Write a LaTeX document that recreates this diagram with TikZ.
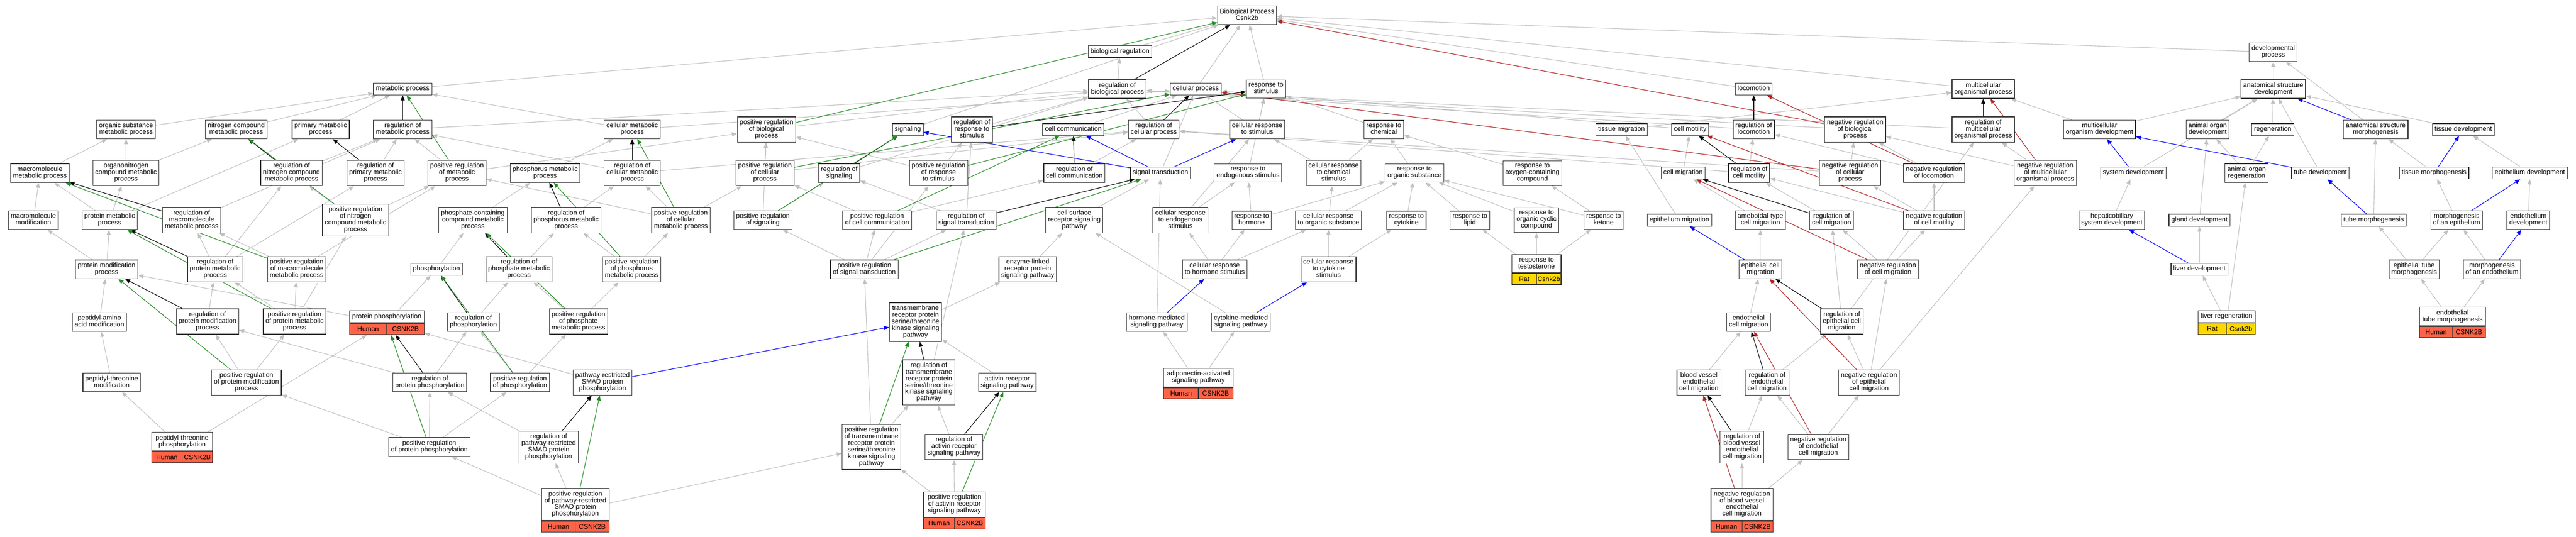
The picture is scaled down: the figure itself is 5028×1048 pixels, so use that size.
\documentclass[tikz,border=0pt]{standalone}
\usepackage{fontspec}
\setmainfont{Liberation Sans}
\usetikzlibrary{arrows.meta}
\usetikzlibrary{fit}
\pgfdeclarelayer{background}
\pgfsetlayers{background,main}
\definecolor{isagray}{HTML}{C0C0C0}
\definecolor{posgreen}{HTML}{228B22}
\definecolor{negred}{HTML}{B22222}
\definecolor{partblue}{HTML}{0000FF}
\definecolor{human}{HTML}{FF6347}
\definecolor{rat}{HTML}{FFD700}
\newcommand{\geneterm}[8]{%
  \node[termbox, anchor=north, minimum width=#4pt] (#1_t) at (#2,#3) {#5};
  \node[tagbox, fill=#8, minimum width=#4pt/2, anchor=north west] (#1_s) at (#1_t.south west) {#6};
  \node[tagbox, fill=#8, minimum width=#4pt/2, anchor=north east] (#1_g) at (#1_t.south east) {#7};
  \node[fit=(#1_t)(#1_s)(#1_g), inner sep=0pt] (#1) {};}

\begin{document}
\begin{tikzpicture}[x=1pt, y=-1pt,
  termbox/.style={draw=black!80, line width=1.2pt, fill=white, align=center, inner xsep=4.5pt, inner ysep=5pt, font=\fontsize{13}{13}\selectfont, execute at begin node=\strut, execute at end node=\strut},
  tagbox/.style={draw=black!80, line width=1.2pt, minimum height=22pt, inner sep=0pt, font=\fontsize{13}{13}\selectfont},
  isa/.style={draw=isagray, line width=1.1pt, -{Triangle[length=10pt,width=8pt]}},
  regl/.style={draw=black, line width=1.1pt, -{Triangle[length=10pt,width=8pt]}},
  posreg/.style={draw=posgreen, line width=1.1pt, -{Triangle[length=10pt,width=8pt]}},
  negreg/.style={draw=negred, line width=1.1pt, -{Triangle[length=10pt,width=8pt]}},
  partof/.style={draw=partblue, line width=1.1pt, -{Triangle[length=10pt,width=8pt]}}]
  \useasboundingbox (0,0) rectangle (5028,1048);

  \node[termbox] (bp) at (2434,30) {Biological Process\\Csnk2b};
  \node[termbox] (bio_reg) at (2186,101) {biological regulation};
  \node[termbox] (dev_proc) at (4437,102) {developmental\\process};

  \node[termbox] (metab) at (786,174) {metabolic process};
  \node[termbox] (reg_bp) at (2181,174) {regulation of\\biological process};
  \node[termbox] (cell_proc) at (2334,174) {cellular process};
  \node[termbox] (resp_stim) at (2471,174) {response to\\stimulus};
  \node[termbox] (loco) at (3423,174) {locomotion};
  \node[termbox] (multi) at (3871,174) {multicellular\\organismal process};
  \node[termbox] (anat_dev) at (4437,174) {anatomical structure\\development};

  \node[termbox] (org_sub) at (246,253) {organic substance\\metabolic process};
  \node[termbox] (nitro) at (461,253) {nitrogen compound\\metabolic process};
  \node[termbox] (primary) at (626,253) {primary metabolic\\process};
  \node[termbox] (reg_metab) at (786,253) {regulation of\\metabolic process};
  \node[termbox] (cell_metab) at (1234,253) {cellular metabolic\\process};
  \node[termbox] (pos_reg_bp) at (1496,253) {positive regulation\\of biological\\process};
  \node[termbox] (signaling) at (1772,253) {signaling};
  \node[termbox] (reg_resp) at (1897,253) {regulation of\\response to\\stimulus};
  \node[termbox] (cell_comm) at (2095,253) {cell communication};
  \node[termbox] (reg_cell_proc) at (2252,253) {regulation of\\cellular process};
  \node[termbox] (cell_resp) at (2454,253) {cellular response\\to stimulus};
  \node[termbox] (resp_chem) at (2701,253) {response to\\chemical};
  \node[termbox] (tissue_mig) at (3165,253) {tissue migration};
  \node[termbox] (cell_mot) at (3299,253) {cell motility};
  \node[termbox] (reg_loco) at (3423,253) {regulation of\\locomotion};
  \node[termbox] (neg_reg_bp) at (3621,253) {negative regulation\\of biological\\process};
  \node[termbox] (reg_multi) at (3871,253) {regulation of\\multicellular\\organismal process};
  \node[termbox] (multi_dev) at (4098,253) {multicellular\\organism development};
  \node[termbox] (organ_dev) at (4309,253) {animal organ\\development};
  \node[termbox] (regen) at (4436,253) {regeneration};
  \node[termbox] (anat_morph) at (4637,253) {anatomical structure\\morphogenesis};
  \node[termbox] (tissue_dev) at (4808,253) {tissue development};

  \node[termbox] (macro) at (78,338) {macromolecule\\metabolic process};
  \node[termbox] (orgnitro) at (246,338) {organonitrogen\\compound metabolic\\process};
  \node[termbox] (reg_nitro) at (569,338) {regulation of\\nitrogen compound\\metabolic process};
  \node[termbox] (reg_prim) at (733,338) {regulation of\\primary metabolic\\process};
  \node[termbox] (pos_reg_metab) at (892,338) {positive regulation\\of metabolic\\process};
  \node[termbox] (phos_metab) at (1064,338) {phosphorus metabolic\\process};
  \node[termbox] (reg_cell_metab) at (1234,338) {regulation of\\cellular metabolic\\process};
  \node[termbox] (pos_reg_cell_proc) at (1493,338) {positive regulation\\of cellular\\process};
  \node[termbox] (reg_sig) at (1638,338) {regulation of\\signaling};
  \node[termbox] (pos_reg_resp) at (1832,338) {positive regulation\\of response\\to stimulus};
  \node[termbox] (reg_comm) at (2097,338) {regulation of\\cell communication};
  \node[termbox] (sig_trans) at (2265,338) {signal transduction};
  \node[termbox] (resp_endo) at (2436,338) {response to\\endogenous stimulus};
  \node[termbox] (cell_resp_chem) at (2603,338) {cellular response\\to chemical\\stimulus};
  \node[termbox] (resp_org) at (2761,338) {response to\\organic substance};
  \node[termbox] (resp_oxy) at (2991,338) {response to\\oxygen-containing\\compound};
  \node[termbox] (cell_mig) at (3285,338) {cell migration};
  \node[termbox] (reg_cell_mot) at (3414,338) {regulation of\\cell motility};
  \node[termbox] (neg_reg_cell_proc) at (3611,338) {negative regulation\\of cellular\\process};
  \node[termbox] (neg_reg_loco) at (3775,338) {negative regulation\\of locomotion};
  \node[termbox] (neg_reg_multi) at (3992,338) {negative regulation\\of multicellular\\organismal process};
  \node[termbox] (sys_dev) at (4164,338) {system development};
  \node[termbox] (organ_regen) at (4385,338) {animal organ\\regeneration};
  \node[termbox] (tube_dev) at (4529,338) {tube development};
  \node[termbox] (tissue_morph) at (4751,338) {tissue morphogenesis};
  \node[termbox] (epi_dev) at (4938,338) {epithelium development};

  \node[termbox] (macro_mod) at (65,430) {macromolecule\\modification};
  \node[termbox] (prot_metab) at (214,430) {protein metabolic\\process};
  \node[termbox] (reg_macro) at (374,430) {regulation of\\macromolecule\\metabolic process};
  \node[termbox] (pos_reg_nitro) at (694,430) {positive regulation\\of nitrogen\\compound metabolic\\process};
  \node[termbox] (phosphate) at (923,430) {phosphate-containing\\compound metabolic\\process};
  \node[termbox] (reg_phos_metab) at (1105,430) {regulation of\\phosphorus metabolic\\process};
  \node[termbox] (pos_reg_cell_metab) at (1329,430) {positive regulation\\of cellular\\metabolic process};
  \node[termbox] (pos_reg_sig) at (1489,430) {positive regulation\\of signaling};
  \node[termbox] (pos_reg_comm) at (1712,430) {positive regulation\\of cell communication};
  \node[termbox] (reg_sig_trans) at (1886,430) {regulation of\\signal transduction};
  \node[termbox] (cell_surf) at (2097,430) {cell surface\\receptor signaling\\pathway};
  \node[termbox] (cell_resp_endo) at (2304,430) {cellular response\\to endogenous\\stimulus};
  \node[termbox] (resp_horm) at (2443,430) {response to\\hormone};
  \node[termbox] (cell_resp_org) at (2593,430) {cellular response\\to organic substance};
  \node[termbox] (resp_cyto) at (2745,430) {response to\\cytokine};
  \node[termbox] (resp_lipid) at (2869,430) {response to\\lipid};
  \node[termbox] (resp_cyclic) at (2999,430) {response to\\organic cyclic\\compound};
  \node[termbox] (resp_ketone) at (3130,430) {response to\\ketone};
  \node[termbox] (epi_mig) at (3278,430) {epithelium migration};
  \node[termbox] (ameboid) at (3436,430) {ameboidal-type\\cell migration};
  \node[termbox] (reg_cell_mig) at (3575,430) {regulation of\\cell migration};
  \node[termbox] (neg_reg_cell_mot) at (3775,430) {negative regulation\\of cell motility};
  \node[termbox] (hepato) at (4122,430) {hepaticobiliary\\system development};
  \node[termbox] (gland_dev) at (4293,430) {gland development};
  \node[termbox] (tube_morph) at (4633,430) {tube morphogenesis};
  \node[termbox] (morph_epi) at (4795,430) {morphogenesis\\of an epithelium};
  \node[termbox] (endo_dev) at (4935,430) {endothelium\\development};

  \node[termbox] (prot_mod) at (208,526) {protein modification\\process};
  \node[termbox] (reg_prot_metab) at (420,526) {regulation of\\protein metabolic\\process};
  \node[termbox] (pos_reg_macro) at (579,526) {positive regulation\\of macromolecule\\metabolic process};
  \node[termbox] (phosphoryl) at (852,526) {phosphorylation};
  \node[termbox] (reg_phosphate) at (1013,526) {regulation of\\phosphate metabolic\\process};
  \node[termbox] (pos_reg_phos_metab) at (1233,526) {positive regulation\\of phosphorus\\metabolic process};
  \node[termbox] (pos_reg_sig_trans) at (1687,526) {positive regulation\\of signal transduction};
  \node[termbox] (enzyme) at (2006,526) {enzyme-linked\\receptor protein\\signaling pathway};
  \node[termbox] (cell_resp_horm) at (2371,526) {cellular response\\to hormone stimulus};
  \node[termbox] (cell_resp_cyto) at (2593,526) {cellular response\\to cytokine\\stimulus};
  \geneterm{resp_testo}{2999}{497}{96}{response to\\testosterone}{Rat}{Csnk2b}{rat}
  \node[termbox] (epi_cell_mig) at (3436,526) {epithelial cell\\migration};
  \node[termbox] (neg_reg_cell_mig) at (3685,526) {negative regulation\\of cell migration};
  \node[termbox] (liver_dev) at (4293,526) {liver development};
  \node[termbox] (epi_tube) at (4712,526) {epithelial tube\\morphogenesis};
  \node[termbox] (morph_endo) at (4864,526) {morphogenesis\\of an endothelium};

  \node[termbox] (peptidyl) at (194,629) {peptidyl-amino\\acid modification};
  \node[termbox] (reg_prot_mod) at (405,628) {regulation of\\protein modification\\process};
  \node[termbox] (pos_reg_prot_metab) at (575,628) {positive regulation\\of protein metabolic\\process};
  \geneterm{prot_phos}{755}{606.6}{146}{protein phosphorylation}{Human}{CSNK2B}{human}
  \node[termbox] (reg_phosph) at (924,629) {regulation of\\phosphorylation};
  \node[termbox] (pos_reg_phosphate) at (1129,628) {positive regulation\\of phosphate\\metabolic process};
  \node[termbox] (tgfb) at (1787,629) {transmembrane\\receptor protein\\serine/threonine\\kinase signaling\\pathway};
  \node[termbox] (horm_med) at (2258,629) {hormone-mediated\\signaling pathway};
  \node[termbox] (cyto_med) at (2422,629) {cytokine-mediated\\signaling pathway};
  \node[termbox] (endo_cell_mig) at (3413,629) {endothelial\\cell migration};
  \node[termbox] (reg_epi_mig) at (3595,628) {regulation of\\epithelial cell\\migration};
  \geneterm{liver_regen}{4346}{606}{112}{liver regeneration}{Rat}{Csnk2b}{rat}
  \geneterm{endo_tube}{4787}{599.5}{128}{endothelial\\tube morphogenesis}{Human}{CSNK2B}{human}

  \node[termbox] (threo_mod) at (218,747) {peptidyl-threonine\\modification};
  \node[termbox] (pos_reg_prot_mod) at (481,747) {positive regulation\\of protein modification\\process};
  \node[termbox] (reg_prot_phos) at (839,747) {regulation of\\protein phosphorylation};
  \node[termbox] (pos_reg_phos) at (1015,747) {positive regulation\\of phosphorylation};
  \node[termbox] (smad) at (1176,747) {pathway-restricted\\SMAD protein\\phosphorylation};
  \node[termbox] (reg_tgfb) at (1813,747) {regulation of\\transmembrane\\receptor protein\\serine/threonine\\kinase signaling\\pathway};
  \node[termbox] (activin) at (1966,747) {activin receptor\\signaling pathway};
  \geneterm{adipo}{2339}{719}{135}{adiponectin-activated\\signaling pathway}{Human}{CSNK2B}{human}
  \node[termbox] (bvecm) at (3316,747) {blood vessel\\endothelial\\cell migration};
  \node[termbox] (reg_endo_mig) at (3449,747) {regulation of\\endothelial\\cell migration};
  \node[termbox] (neg_reg_epi_mig) at (3648,747) {negative regulation\\of epithelial\\cell migration};

  \geneterm{threo_phos}{355.5}{844}{119}{peptidyl-threonine\\phosphorylation}{Human}{CSNK2B}{human}
  \node[termbox] (pos_reg_prot_phos) at (838,873) {positive regulation\\of protein phosphorylation};
  \node[termbox] (reg_smad) at (1071,873) {regulation of\\pathway-restricted\\SMAD protein\\phosphorylation};
  \node[termbox] (pos_reg_tgfb) at (1701,873) {positive regulation\\of transmembrane\\receptor protein\\serine/threonine\\kinase signaling\\pathway};
  \node[termbox] (reg_activin) at (1862,873) {regulation of\\activin receptor\\signaling pathway};
  \node[termbox] (reg_bvecm) at (3400,873) {regulation of\\blood vessel\\endothelial\\cell migration};
  \node[termbox] (neg_reg_endo_mig) at (3549,873) {negative regulation\\of endothelial\\cell migration};

  \geneterm{pos_reg_smad}{1123}{953.5}{132}{positive regulation\\of pathway-restricted\\SMAD protein\\phosphorylation}{Human}{CSNK2B}{human}
  \geneterm{pos_reg_activin}{1863}{960}{120}{positive regulation\\of activin receptor\\signaling pathway}{Human}{CSNK2B}{human}
  \geneterm{neg_reg_bvecm}{3400}{953.5}{121}{negative regulation\\of blood vessel\\endothelial\\cell migration}{Human}{CSNK2B}{human}

  \begin{pgfonlayer}{background}
  \fill[white] (0,0) rectangle (5028,1048);
  \foreach \a/\b in {bio_reg/bp, cell_proc/bp, resp_stim/bp, metab/bp, loco/bp, multi/bp, dev_proc/bp, signaling/bp,
    reg_bp/bio_reg, org_sub/metab, nitro/metab, primary/metab, cell_metab/metab, cell_metab/cell_proc,
    reg_metab/reg_bp, pos_reg_bp/reg_bp, reg_resp/reg_bp, reg_cell_proc/reg_bp, reg_sig/reg_bp, reg_loco/reg_bp, neg_reg_bp/reg_bp, reg_multi/reg_bp,
    cell_comm/cell_proc, cell_resp/cell_proc, cell_resp/resp_stim, cell_mot/cell_proc, sig_trans/cell_proc,
    resp_chem/resp_stim, resp_endo/resp_stim, tissue_mig/multi, multi_dev/multi, multi_dev/anat_dev, anat_dev/dev_proc, anat_morph/dev_proc,
    organ_dev/anat_dev, regen/anat_dev, tissue_dev/anat_dev, sys_dev/anat_dev, tube_dev/anat_dev,
    macro/org_sub, orgnitro/org_sub, orgnitro/nitro, reg_nitro/reg_metab, reg_prim/reg_metab, pos_reg_metab/reg_metab, pos_reg_metab/pos_reg_bp,
    macro_mod/macro, prot_metab/macro, prot_metab/orgnitro, prot_metab/primary, reg_macro/reg_metab,
    pos_reg_nitro/reg_nitro, pos_reg_nitro/pos_reg_metab, phosphate/phos_metab, phos_metab/cell_metab,
    reg_phos_metab/reg_cell_metab, reg_cell_metab/reg_metab, reg_cell_metab/reg_cell_proc,
    pos_reg_cell_metab/reg_cell_metab, pos_reg_cell_metab/pos_reg_metab, pos_reg_cell_metab/pos_reg_cell_proc,
    pos_reg_cell_proc/pos_reg_bp, pos_reg_cell_proc/reg_cell_proc, pos_reg_sig/reg_sig, pos_reg_sig/pos_reg_bp,
    pos_reg_comm/reg_comm, pos_reg_comm/pos_reg_cell_proc, reg_comm/reg_cell_proc, pos_reg_resp/reg_resp, pos_reg_resp/pos_reg_bp,
    reg_sig_trans/reg_sig, reg_sig_trans/reg_resp, pos_reg_sig_trans/reg_sig_trans, pos_reg_sig_trans/pos_reg_sig,
    pos_reg_sig_trans/pos_reg_comm, pos_reg_sig_trans/pos_reg_resp,
    cell_surf/sig_trans, enzyme/cell_surf, tgfb/enzyme, reg_tgfb/reg_sig_trans, activin/tgfb, reg_activin/reg_tgfb,
    pos_reg_activin/reg_activin, pos_reg_activin/pos_reg_tgfb, pos_reg_tgfb/reg_tgfb, pos_reg_tgfb/pos_reg_sig_trans,
    reg_smad/reg_prot_phos, pos_reg_smad/reg_smad, pos_reg_smad/pos_reg_prot_phos, pos_reg_smad/pos_reg_tgfb, smad/prot_phos,
    pos_reg_phos/reg_phosph, pos_reg_phos/pos_reg_phosphate, reg_phosph/reg_phosphate,
    pos_reg_phosphate/reg_phosphate, pos_reg_phosphate/pos_reg_phos_metab, reg_phosphate/reg_phos_metab,
    pos_reg_phos_metab/reg_phos_metab, pos_reg_phos_metab/pos_reg_cell_metab, phosphoryl/phosphate,
    prot_mod/macro_mod, prot_mod/prot_metab, reg_prot_metab/reg_macro, reg_prot_metab/reg_nitro, reg_prot_metab/reg_prim,
    pos_reg_macro/reg_macro, pos_reg_macro/pos_reg_metab,
    reg_prot_mod/reg_prot_metab, pos_reg_prot_metab/reg_prot_metab, pos_reg_prot_metab/pos_reg_macro, pos_reg_prot_metab/pos_reg_nitro,
    peptidyl/prot_mod, prot_phos/prot_mod, prot_phos/phosphoryl, threo_mod/peptidyl,
    pos_reg_prot_mod/reg_prot_mod, pos_reg_prot_mod/pos_reg_prot_metab, reg_prot_phos/reg_prot_mod, reg_prot_phos/reg_phosph,
    threo_phos/threo_mod, threo_phos/prot_phos,
    pos_reg_prot_phos/pos_reg_prot_mod, pos_reg_prot_phos/reg_prot_phos, pos_reg_prot_phos/pos_reg_phos,
    cell_resp_chem/resp_chem, cell_resp_chem/cell_resp, resp_org/resp_chem, resp_oxy/resp_chem,
    cell_resp_endo/resp_endo, cell_resp_endo/cell_resp, resp_horm/resp_endo, resp_horm/resp_org,
    cell_resp_horm/cell_resp_endo, cell_resp_horm/resp_horm, cell_resp_horm/cell_resp_org,
    horm_med/sig_trans, cyto_med/cell_surf, adipo/horm_med, adipo/cyto_med,
    cell_resp_cyto/cell_resp_org, cell_resp_cyto/resp_cyto, cell_resp_org/resp_org, cell_resp_org/cell_resp_chem,
    resp_cyto/resp_org, resp_lipid/resp_org, resp_cyclic/resp_org, resp_ketone/resp_org, resp_ketone/resp_oxy,
    resp_testo/resp_lipid, resp_testo/resp_cyclic, resp_testo/resp_ketone,
    cell_mig/cell_mot, reg_cell_mot/reg_loco, reg_cell_mot/reg_cell_proc,
    neg_reg_cell_proc/neg_reg_bp, neg_reg_cell_proc/reg_cell_proc, neg_reg_loco/neg_reg_bp, neg_reg_loco/reg_loco,
    neg_reg_multi/neg_reg_bp, neg_reg_multi/reg_multi,
    ameboid/cell_mig, reg_cell_mig/reg_cell_mot, neg_reg_cell_mot/reg_cell_mot, neg_reg_cell_mot/neg_reg_loco, neg_reg_cell_mot/neg_reg_cell_proc,
    neg_reg_cell_mig/reg_cell_mig, neg_reg_cell_mig/neg_reg_cell_mot,
    reg_epi_mig/reg_cell_mig, reg_epi_mig/reg_multi, neg_reg_epi_mig/neg_reg_cell_mig, neg_reg_epi_mig/reg_epi_mig, neg_reg_epi_mig/neg_reg_multi,
    epi_cell_mig/ameboid, epi_mig/tissue_mig, endo_cell_mig/epi_cell_mig, reg_endo_mig/reg_epi_mig, bvecm/endo_cell_mig,
    neg_reg_endo_mig/reg_endo_mig, neg_reg_endo_mig/neg_reg_epi_mig, reg_bvecm/reg_endo_mig, neg_reg_bvecm/reg_bvecm, neg_reg_bvecm/neg_reg_endo_mig,
    organ_regen/organ_dev, organ_regen/regen, hepato/sys_dev, gland_dev/organ_dev, tube_morph/anat_morph,
    tissue_morph/anat_morph, epi_dev/tissue_dev, morph_epi/tissue_morph, endo_dev/epi_dev, liver_dev/gland_dev,
    epi_tube/tube_morph, epi_tube/morph_epi, morph_endo/morph_epi, liver_regen/liver_dev, liver_regen/organ_regen,
    endo_tube/epi_tube, endo_tube/morph_endo}
    \draw[isa] (\a) -- (\b);

  \foreach \a/\b in {reg_bp/bp, reg_metab/metab, reg_resp/resp_stim, reg_cell_proc/cell_proc, reg_nitro/nitro, reg_prim/primary,
    reg_macro/macro, reg_cell_metab/cell_metab, reg_phos_metab/phos_metab, reg_sig/signaling, reg_comm/cell_comm,
    reg_sig_trans/sig_trans, reg_prot_metab/prot_metab, reg_prot_mod/prot_mod, reg_phosphate/phosphate, reg_phosph/phosphoryl,
    reg_prot_phos/prot_phos, reg_smad/smad, reg_tgfb/tgfb, reg_activin/activin, reg_loco/loco, reg_multi/multi,
    reg_cell_mot/cell_mot, reg_cell_mig/cell_mig, reg_epi_mig/epi_cell_mig, reg_endo_mig/endo_cell_mig, reg_bvecm/bvecm}
    \draw[regl] (\a) -- (\b);

  \foreach \a/\b in {pos_reg_bp/bp, pos_reg_metab/metab, pos_reg_nitro/nitro, pos_reg_macro/macro, pos_reg_cell_metab/cell_metab,
    pos_reg_cell_proc/cell_proc, pos_reg_resp/resp_stim, pos_reg_sig/signaling, pos_reg_comm/cell_comm, pos_reg_sig_trans/sig_trans,
    pos_reg_phos_metab/phos_metab, pos_reg_phosphate/phosphate, pos_reg_phos/phosphoryl, pos_reg_prot_metab/prot_metab,
    pos_reg_prot_mod/prot_mod, pos_reg_prot_phos/prot_phos, pos_reg_smad/smad, pos_reg_tgfb/tgfb, pos_reg_activin/activin}
    \draw[posreg] (\a) -- (\b);

  \foreach \a/\b in {neg_reg_bp/bp, neg_reg_cell_proc/cell_proc, neg_reg_loco/loco, neg_reg_multi/multi, neg_reg_cell_mot/cell_mot,
    neg_reg_cell_mig/cell_mig, neg_reg_epi_mig/epi_cell_mig, neg_reg_endo_mig/endo_cell_mig, neg_reg_bvecm/bvecm}
    \draw[negreg] (\a) -- (\b);

  \foreach \a/\b in {sig_trans/signaling, sig_trans/cell_comm, sig_trans/cell_resp, smad/tgfb, horm_med/cell_resp_horm,
    cyto_med/cell_resp_cyto, epi_cell_mig/epi_mig, anat_morph/anat_dev, sys_dev/multi_dev, tube_dev/multi_dev,
    tissue_morph/tissue_dev, tube_morph/tube_dev, morph_epi/epi_dev, morph_endo/endo_dev, liver_dev/hepato}
    \draw[partof] (\a) -- (\b);
  \end{pgfonlayer}
\end{tikzpicture}
\end{document}
